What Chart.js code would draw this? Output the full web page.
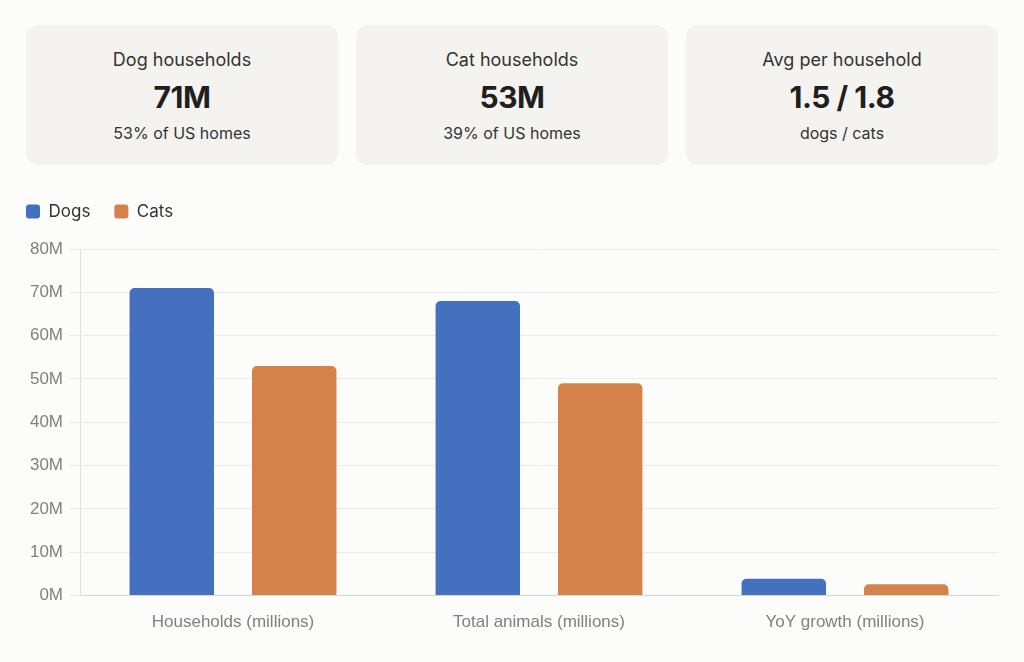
<!DOCTYPE html>
<html>
<head>
<meta charset="utf-8">
<script src="https://cdn.jsdelivr.net/npm/chart.js@4"></script>
<style>
  html, body { margin: 0; padding: 0; background: #fcfcfb; }
  body { width: 1024px; height: 662px; position: relative; overflow: hidden; font-family: Inter, 'Noto Sans', sans-serif; }
  .cards { position: absolute; left: 26px; top: 25px; width: 972px; display: flex; gap: 18px; }
  .card { flex: 1; height: 140px; background: #f4f3ef; border-radius: 12px; text-align: center; color: #1f1f1f; }
  .card .t { margin-top: 24px; font-size: 18px; color: #333; }
  .card .v { margin-top: 9px; font-size: 30px; font-weight: 700; letter-spacing: -0.5px; }
  .card .s { margin-top: 8px; font-size: 16px; color: #333; }
  #wrap { position: absolute; left: 2px; top: 179px; width: 1006px; height: 463px; }
</style>
</head>
<body>
<div class="cards">
  <div class="card"><div class="t">Dog households</div><div class="v">71M</div><div class="s">53% of US homes</div></div>
  <div class="card"><div class="t">Cat households</div><div class="v">53M</div><div class="s">39% of US homes</div></div>
  <div class="card"><div class="t">Avg per household</div><div class="v">1.5 / 1.8</div><div class="s">dogs / cats</div></div>
</div>
<div id="wrap"><canvas id="myChart"></canvas></div>
<script>
let labels = ['Households (millions)', 'Total animals (millions)', 'YoY growth (millions)'];
let dogs = [71, 68, 3.9];
let cats = [53, 49, 2.6];
let seriesNames = ['Dogs', 'Cats'];
let colorHex = ['#4570c0', '#d5824a'];

let tickFont = { family: "'Liberation Sans', Arial, sans-serif", size: 17 };

// legend gets a fixed height so the plot starts lower, like the original
let legendHeight = {
  id: 'legendHeight',
  beforeUpdate(chart) {
    if (chart.legend && !chart.legend._patched) {
      let fit = chart.legend.fit;
      chart.legend.fit = function () {
        fit.call(this);
        this.height = 70;
      };
      chart.legend._patched = true;
    }
  }
};

let ctx = document.getElementById('myChart').getContext('2d');

let myChart = new Chart(ctx, {
  type: 'bar',
  data: {
    labels: labels,
    datasets: [
      { label: seriesNames[0], data: dogs, backgroundColor: colorHex[0], borderRadius: 5, borderSkipped: 'bottom' },
      { label: seriesNames[1], data: cats, backgroundColor: colorHex[1], borderRadius: 5, borderSkipped: 'bottom' }
    ]
  },
  plugins: [legendHeight],
  options: {
    responsive: true,
    maintainAspectRatio: false,
    animation: false,
    categoryPercentage: 0.8,
    barPercentage: 0.69,
    layout: { padding: { left: 0, right: 10, top: 0, bottom: 0 } },
    plugins: {
      legend: {
        position: 'top',
        align: 'start',
        labels: {
          boxWidth: 14,
          boxHeight: 14,
          useBorderRadius: true,
          borderRadius: 3,
          padding: 24,
          color: '#333',
          font: { family: 'Inter', size: 17 }
        }
      },
      tooltip: { enabled: false }
    },
    scales: {
      x: {
        grid: { display: false },
        border: { color: '#d6d6d6' },
        ticks: { color: '#808080', padding: 9, font: tickFont }
      },
      y: {
        min: 0,
        max: 80,
        afterFit: function (scale) { scale.width = 78; },
        grid: { color: '#ebebeb', tickLength: 11 },
        border: { color: '#e0e0e0' },
        ticks: {
          stepSize: 10,
          padding: 6,
          color: '#808080',
          font: tickFont,
          callback: function (v) { return v + 'M'; }
        }
      }
    }
  }
});
</script>
</body>
</html>
